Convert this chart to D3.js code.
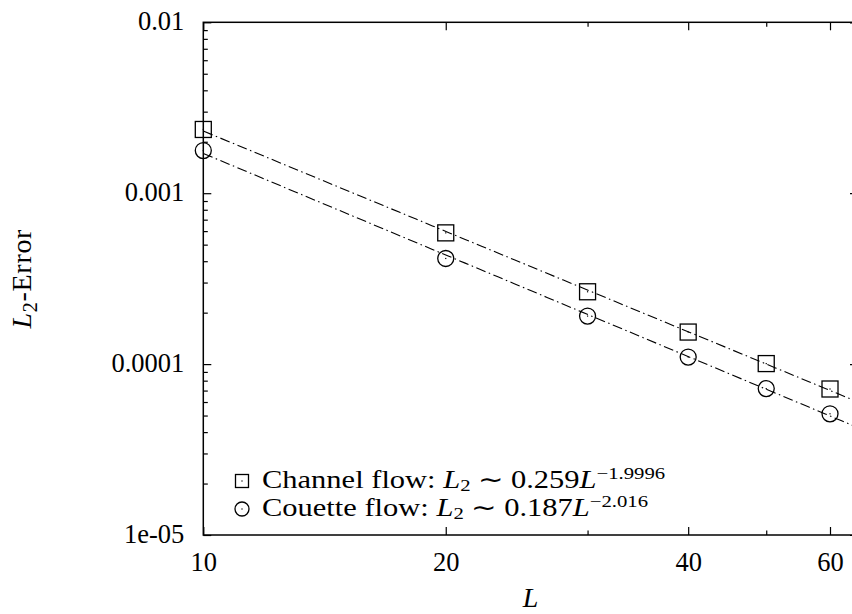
<!DOCTYPE html>
<html>
<head>
<meta charset="utf-8">
<script src="https://cdn.jsdelivr.net/npm/d3@7"></script>
<style>
  html, body { margin: 0; padding: 0; background: #fff; }
  svg { display: block; }
  text { font-family: "Liberation Serif", "Times New Roman", serif; fill: #000; }
</style>
</head>
<body>
<svg id="chart" width="852" height="614"></svg>
<script>
// Grid sizes L and the L2 error for each flow case
const gridSizes = [10, 20, 30, 40, 50, 60];
const channelError = [2.36e-3, 5.86e-4, 2.65e-4, 1.54e-4, 1.007e-4, 7.15e-5];
const couetteError = [1.776e-3, 4.15e-4, 1.91e-4, 1.10e-4, 7.19e-5, 5.12e-5];

// Stated power-law fits shown in the key
const seriesNames = ["Channel flow:", "Couette flow:"];
const fitCoefficients = ["0.259", "0.187"];
const fitExponents = ["\u22121.9996", "\u22122.016"];

// Axis ticks
const xMajorTicks = [10, 20, 40, 60];
const xMinorTicks = [30, 50];
const xTickLabels = ["10", "20", "40", "60"];
const yMajorTicks = [1e-5, 1e-4, 1e-3, 1e-2];
const yTickLabels = ["1e-05", "0.0001", "0.001", "0.01"];

const xDomain = [10, 65];
const yDomain = [1e-5, 1e-2];

const svg = d3.select("#chart");
const plot = { left: 203.3, right: 858, top: 22.3, bottom: 535 };

const x = d3.scaleLog().domain(xDomain).range([plot.left, plot.right]);
const y = d3.scaleLog().domain(yDomain).range([plot.bottom, plot.top]);

// minor y ticks: 2..9 within each decade
const yMinorTicks = [];
for (let d = -5; d < -2; d++) {
  for (let m = 2; m <= 9; m++) yMinorTicks.push(m * Math.pow(10, d));
}

const majorLen = 8, minorLen = 4.5;
const tickFont = 26.5;

function styleAxis(g) {
  g.select(".domain").remove();
  g.selectAll(".tick line").attr("stroke", "#000").attr("stroke-width", 1.2);
  g.selectAll(".tick text")
    .style("font-family", '"Liberation Serif", serif')
    .style("font-size", tickFont + "px")
    .attr("fill", "#000");
}

// bottom axis (labelled) and its minor ticks
svg.append("g").attr("transform", `translate(0,${plot.bottom})`)
  .call(d3.axisBottom(x).tickValues(xMajorTicks)
    .tickFormat((d, i) => xTickLabels[i])
    .tickSizeInner(-majorLen).tickSizeOuter(0).tickPadding(17))
  .call(styleAxis);
svg.append("g").attr("transform", `translate(0,${plot.bottom})`)
  .call(d3.axisBottom(x).tickValues(xMinorTicks).tickFormat("")
    .tickSizeInner(-minorLen).tickSizeOuter(0))
  .call(styleAxis);
// top mirrored ticks
svg.append("g").attr("transform", `translate(0,${plot.top})`)
  .call(d3.axisTop(x).tickValues(xMajorTicks).tickFormat("")
    .tickSizeInner(-majorLen).tickSizeOuter(0))
  .call(styleAxis);
svg.append("g").attr("transform", `translate(0,${plot.top})`)
  .call(d3.axisTop(x).tickValues(xMinorTicks).tickFormat("")
    .tickSizeInner(-minorLen).tickSizeOuter(0))
  .call(styleAxis);

// left axis (labelled) and minor ticks
svg.append("g").attr("transform", `translate(${plot.left},0)`)
  .call(d3.axisLeft(y).tickValues(yMajorTicks)
    .tickFormat((d, i) => yTickLabels[i])
    .tickSizeInner(-majorLen).tickSizeOuter(0).tickPadding(19))
  .call(styleAxis)
  .call(g => g.selectAll(".tick text").attr("dy", "0.27em"));
svg.append("g").attr("transform", `translate(${plot.left},0)`)
  .call(d3.axisLeft(y).tickValues(yMinorTicks).tickFormat("")
    .tickSizeInner(-minorLen).tickSizeOuter(0))
  .call(styleAxis);
// right mirrored ticks
svg.append("g").attr("transform", `translate(${plot.right},0)`)
  .call(d3.axisRight(y).tickValues(yMajorTicks).tickFormat("")
    .tickSizeInner(-majorLen).tickSizeOuter(0))
  .call(styleAxis);
svg.append("g").attr("transform", `translate(${plot.right},0)`)
  .call(d3.axisRight(y).tickValues(yMinorTicks).tickFormat("")
    .tickSizeInner(-minorLen).tickSizeOuter(0))
  .call(styleAxis);

// plot border
svg.append("rect")
  .attr("x", plot.left).attr("y", plot.top)
  .attr("width", plot.right - plot.left).attr("height", plot.bottom - plot.top)
  .attr("fill", "none").attr("stroke", "#000").attr("stroke-width", 1.5);

// least-squares power-law fit in log-log space
function powerFit(xs, ys) {
  const lx = xs.map(Math.log10), ly = ys.map(Math.log10);
  const mx = d3.mean(lx), my = d3.mean(ly);
  const sxy = d3.sum(lx, (v, i) => (v - mx) * (ly[i] - my));
  const sxx = d3.sum(lx, v => (v - mx) * (v - mx));
  const b = sxy / sxx;
  const a = my - b * mx;
  return xv => Math.pow(10, a + b * Math.log10(xv));
}

svg.append("clipPath").attr("id", "plotClip")
  .append("rect").attr("x", plot.left).attr("y", plot.top)
  .attr("width", plot.right - plot.left).attr("height", plot.bottom - plot.top);

const series = [channelError, couetteError];
const fitLayer = svg.append("g").attr("clip-path", "url(#plotClip)");
series.forEach(vals => {
  const f = powerFit(gridSizes, vals);
  const pts = d3.range(0, 41).map(i => {
    const lv = Math.log10(xDomain[0]) + (Math.log10(xDomain[1]) - Math.log10(xDomain[0])) * i / 40;
    return Math.pow(10, lv);
  });
  fitLayer.append("path")
    .attr("d", d3.line().x(d => x(d)).y(d => y(f(d)))(pts))
    .attr("fill", "none").attr("stroke", "#000").attr("stroke-width", 1.1)
    .attr("stroke-dasharray", "10,3.5,1.5,3.5");
});

// point markers
const sq = 16, cr = 8;
function squareMark(g, cx, cy, s) {
  g.append("rect").attr("x", cx - s / 2).attr("y", cy - s / 2)
    .attr("width", s).attr("height", s)
    .attr("fill", "none").attr("stroke", "#000").attr("stroke-width", 1.3);
  g.append("rect").attr("x", cx - 0.6).attr("y", cy - 0.6)
    .attr("width", 1.2).attr("height", 1.2).attr("fill", "#000");
}
function circleMark(g, cx, cy, r) {
  g.append("circle").attr("cx", cx).attr("cy", cy).attr("r", r)
    .attr("fill", "none").attr("stroke", "#000").attr("stroke-width", 1.3);
  g.append("rect").attr("x", cx - 0.6).attr("y", cy - 0.6)
    .attr("width", 1.2).attr("height", 1.2).attr("fill", "#000");
}
const markLayer = svg.append("g");
gridSizes.forEach((L, i) => {
  squareMark(markLayer, x(L), y(channelError[i]), sq);
  circleMark(markLayer, x(L), y(couetteError[i]), cr);
});

// key: symbol plus fit formula, text widened horizontally
const key = svg.append("g");
const keyX = 242, keyBase = [488, 516];
const keyFont = 25;
seriesNames.forEach((name, i) => {
  const cy = keyBase[i] - 7;
  if (i === 0) squareMark(key, keyX, cy, 13);
  else circleMark(key, keyX, cy, 7);
  const t = key.append("text")
    .attr("transform", `translate(262,${keyBase[i]}) scale(1.22,1)`)
    .style("font-size", keyFont + "px");
  t.append("tspan").text(name + " ");
  t.append("tspan").style("font-style", "italic").text("L");
  t.append("tspan").attr("dy", 3).style("font-size", "17px").text("2");
  t.append("tspan").attr("dy", -3).text(" \u223C " + fitCoefficients[i]);
  t.append("tspan").style("font-style", "italic").text("L");
  t.append("tspan").attr("dy", -9).style("font-size", "17px").text(fitExponents[i]);
});

// axis titles
svg.append("text")
  .attr("x", (plot.left + plot.right) / 2).attr("y", 607)
  .attr("text-anchor", "middle").style("font-size", "28px")
  .style("font-style", "italic").text("L");

const yt = svg.append("text")
  .attr("transform", `translate(31,${(plot.top + plot.bottom) / 2}) rotate(-90)`)
  .attr("text-anchor", "middle").style("font-size", "28px")
  .style("letter-spacing", "0.7px");
yt.append("tspan").style("font-style", "italic").text("L");
yt.append("tspan").attr("dy", 6).style("font-size", "20px").text("2");
yt.append("tspan").attr("dy", -6).text("-Error");
</script>
</body>
</html>
